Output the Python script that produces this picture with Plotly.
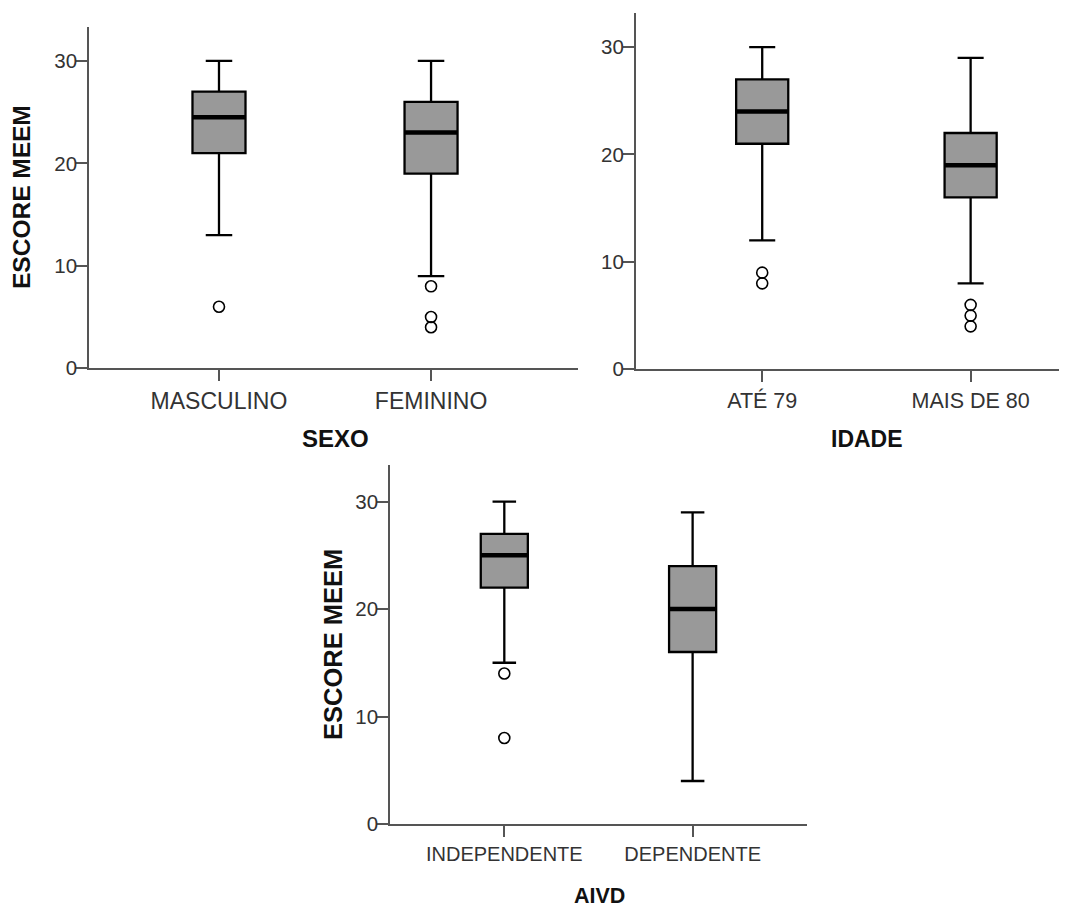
import plotly.graph_objects as go

W, H = 1081, 908          # reference frame size used for the measured positions
FIG_H = 919               # page height (the capture compresses height by ~908/919)

# ---- data ----
sexo_cats = ["MASCULINO", "FEMININO"]
sexo_q1 = [21, 19]
sexo_med = [24.5, 23]
sexo_q3 = [27, 26]
sexo_lo = [13, 9]
sexo_hi = [30, 30]
sexo_out = [[6], [8, 5, 4]]

idade_cats = ["ATÉ 79", "MAIS DE 80"]
idade_q1 = [21, 16]
idade_med = [24, 19]
idade_q3 = [27, 22]
idade_lo = [12, 8]
idade_hi = [30, 29]
idade_out = [[9, 8], [6, 5, 4]]

aivd_cats = ["INDEPENDENTE", "DEPENDENTE"]
aivd_q1 = [22, 16]
aivd_med = [25, 20]
aivd_q3 = [27, 24]
aivd_lo = [15, 4]
aivd_hi = [30, 29]
aivd_out = [[14, 8], []]

y_ticks = [0, 10, 20, 30]

panels = [
    dict(cats=sexo_cats, q1=sexo_q1, med=sexo_med, q3=sexo_q3, lo=sexo_lo, hi=sexo_hi, out=sexo_out,
         px=(89, 578), py=(27, 368.3), xr=(-0.613, 1.693), yr=(0, 33.3),
         xtitle="SEXO", xt_pos=(335, 438), xt_size=24,
         ytitle="ESCORE MEEM", yt_pos=(22, 197), yt_size=24.5, cat_size=23),
    dict(cats=idade_cats, q1=idade_q1, med=idade_med, q3=idade_q3, lo=idade_lo, hi=idade_hi, out=idade_out,
         px=(635.7, 1059), py=(12.7, 369.3), xr=(-0.607, 1.424), yr=(0, 33.2),
         xtitle="IDADE", xt_pos=(867, 439), xt_size=23,
         ytitle=None, yt_pos=None, yt_size=None, cat_size=21.5),
    dict(cats=aivd_cats, q1=aivd_q1, med=aivd_med, q3=aivd_q3, lo=aivd_lo, hi=aivd_hi, out=aivd_out,
         px=(390, 807.3), py=(465, 824), xr=(-0.607, 1.609), yr=(0, 33.4),
         xtitle="AIVD", xt_pos=(599, 896), xt_size=21.5,
         ytitle="ESCORE MEEM", yt_pos=(333, 645), yt_size=25.5, cat_size=20),
]

FONT = "Liberation Sans, Arial, sans-serif"
BOX_W = 0.25
fig = go.Figure()
shapes = []
annotations = []
layout = {}

for i, p in enumerate(panels):
    n = i + 1
    xa = "x" if n == 1 else f"x{n}"
    ya = "y" if n == 1 else f"y{n}"
    pos = list(range(len(p["cats"])))
    fig.add_trace(go.Box(
        x=pos, q1=p["q1"], median=p["med"], q3=p["q3"],
        lowerfence=p["lo"], upperfence=p["hi"],
        width=BOX_W, whiskerwidth=0.5, boxpoints=False,
        fillcolor="#999999", line=dict(color="#000000", width=2.3),
        xaxis=xa, yaxis=ya, showlegend=False, hoverinfo="skip",
    ))
    ox, oy = [], []
    for k, vals in enumerate(p["out"]):
        for v in vals:
            ox.append(k)
            oy.append(v)
    fig.add_trace(go.Scatter(
        x=ox, y=oy, mode="markers",
        marker=dict(symbol="circle-open", size=11, color="#000000", line=dict(width=1.6)),
        xaxis=xa, yaxis=ya, showlegend=False, hoverinfo="skip",
    ))
    for k, m in enumerate(p["med"]):
        shapes.append(dict(type="line", xref=xa, yref=ya,
                           x0=k - BOX_W / 2, x1=k + BOX_W / 2, y0=m, y1=m,
                           line=dict(color="#000000", width=4.5)))
    xdom = [p["px"][0] / W, p["px"][1] / W]
    ydom = [1 - p["py"][1] / H, 1 - p["py"][0] / H]
    axis_common = dict(showline=True, linecolor="#555555", linewidth=1.5,
                       ticks="outside", ticklen=11, tickwidth=1.5, tickcolor="#555555",
                       showgrid=False, zeroline=False, fixedrange=True)
    layout["xaxis" if n == 1 else f"xaxis{n}"] = dict(
        domain=xdom, range=list(p["xr"]), anchor=ya,
        tickmode="array", tickvals=pos, ticktext=p["cats"],
        tickfont=dict(family=FONT, size=p["cat_size"], color="#333333"),
        **axis_common)
    layout["yaxis" if n == 1 else f"yaxis{n}"] = dict(
        domain=ydom, range=list(p["yr"]), anchor=xa,
        tickmode="array", tickvals=y_ticks, ticklabelstandoff=-5,
        tickfont=dict(family=FONT, size=20.5, color="#333333"),
        **axis_common)
    annotations.append(dict(text=f"<b>{p['xtitle']}</b>", xref="paper", yref="paper",
                            x=p["xt_pos"][0] / W, y=1 - p["xt_pos"][1] / H,
                            xanchor="center", yanchor="middle", showarrow=False,
                            font=dict(family=FONT, size=p["xt_size"], color="#111111")))
    if p["ytitle"]:
        annotations.append(dict(text=f"<b>{p['ytitle']}</b>", xref="paper", yref="paper",
                                x=p["yt_pos"][0] / W, y=1 - p["yt_pos"][1] / H,
                                xanchor="center", yanchor="middle", textangle=-90, showarrow=False,
                                font=dict(family=FONT, size=p["yt_size"], color="#111111")))

fig.update_layout(
    width=W, height=FIG_H,
    margin=dict(l=0, r=0, t=0, b=0),
    paper_bgcolor="white", plot_bgcolor="white",
    shapes=shapes, annotations=annotations, showlegend=False,
    **layout,
)

page_fix = (
    "var d=document.documentElement,b=document.body;"
    "[d,b].forEach(function(e){e.style.margin='0';e.style.padding='0';e.style.overflow='hidden';});"
)

fig.write_html("out.html", config={"displayModeBar": False}, post_script=page_fix)
